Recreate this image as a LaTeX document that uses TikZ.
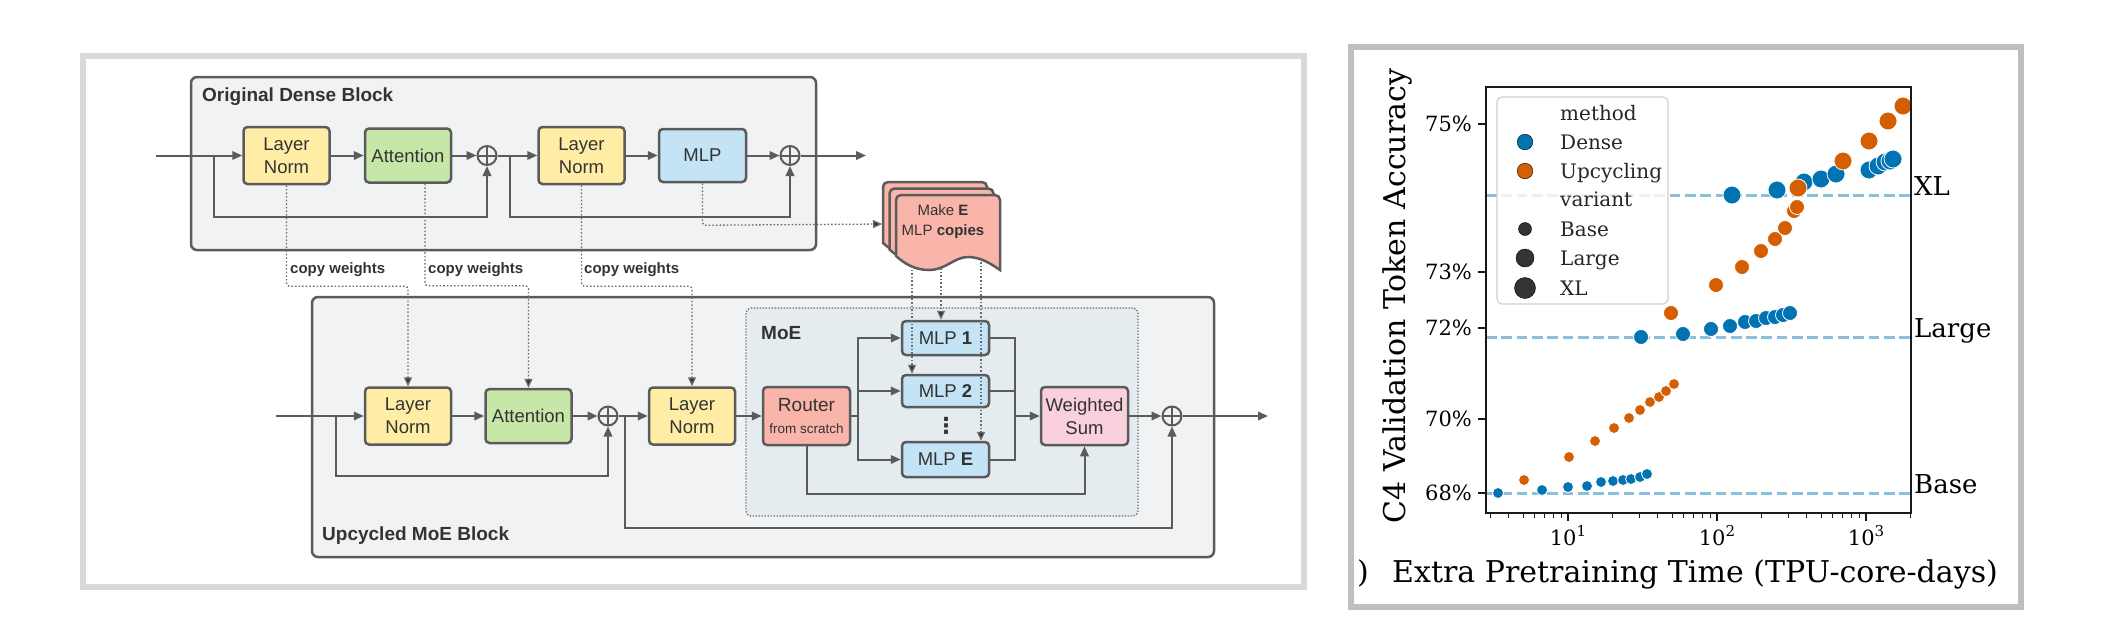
\documentclass[tikz,border=0pt]{standalone}
\usepackage{fontspec}
\setmainfont{Liberation Sans}
\newfontfamily\chartfont{DejaVu Serif}
\newfontfamily\symfont{DejaVu Sans}
\usetikzlibrary{arrows.meta}

\definecolor{edge}{HTML}{5B5B5B}
\definecolor{txt}{HTML}{333333}
\definecolor{dotc}{HTML}{6A6A6A}
\definecolor{lnfill}{HTML}{FFEDA6}
\definecolor{attfill}{HTML}{C7E7A9}
\definecolor{mlpfill}{HTML}{C4E4F6}
\definecolor{routfill}{HTML}{F9B5AA}
\definecolor{wsfill}{HTML}{F9D0DB}
\definecolor{blockfill}{HTML}{F1F2F4}
\definecolor{moefill}{HTML}{E4ECEF}
\definecolor{panelL}{HTML}{D9D9D9}
\definecolor{panelR}{HTML}{BFBFBF}
\definecolor{cblue}{HTML}{0173B2}
\definecolor{corange}{HTML}{D55E00}
\definecolor{hlinec}{HTML}{8CBFDE}
\definecolor{legedge}{HTML}{D0D0D0}

\tikzset{
  box/.style={draw=edge, line width=2.5pt, rounded corners=4pt, inner sep=0pt,
    align=center, text=txt, font=\fontsize{18.5}{23}\selectfont},
  lnbox/.style={box, fill=lnfill, minimum width=86pt, minimum height=57pt},
  attbox/.style={box, fill=attfill, minimum width=86pt, minimum height=54pt},
  mlpbox/.style={box, fill=mlpfill, minimum width=87pt, minimum height=53pt},
  expbox/.style={box, fill=mlpfill, minimum width=87pt, minimum height=34pt},
  routbox/.style={box, fill=routfill, minimum width=87pt, minimum height=58pt},
  wsbox/.style={box, fill=wsfill, minimum width=87pt, minimum height=58pt},
  block/.style={draw=edge, line width=2.5pt, fill=blockfill, rounded corners=6pt, inner sep=0pt},
  moeregion/.style={draw=dotc, line width=1.3pt, dash pattern=on 1.3pt off 1.7pt, fill=moefill, rounded corners=5pt, inner sep=0pt},
  title/.style={font=\fontsize{19}{22}\selectfont\bfseries, text=txt, inner sep=0pt, anchor=west},
  cwlabel/.style={font=\fontsize{15}{18}\selectfont\bfseries, text=txt, inner sep=0pt, anchor=west},
  sumnode/.style={circle, draw=edge, line width=2pt, minimum size=19pt, inner sep=0pt,
    path picture={\draw[edge, line width=2pt] (path picture bounding box.north) -- (path picture bounding box.south)
      (path picture bounding box.west) -- (path picture bounding box.east);}},
  conn/.style={draw=edge, line width=2pt},
  arr/.style={conn, -{Triangle[length=10pt,width=8.5pt]}},
  dotline/.style={draw=dotc, line width=1.3pt, dash pattern=on 1.6pt off 2pt, rounded corners=3pt},
  darr/.style={dotline, -{Triangle[length=9pt,width=8pt,fill=txt]}},
  sheet/.style={draw=edge, line width=2.5pt, fill=routfill},
  chart/.style={font=\chartfont\fontsize{21}{24}\selectfont, inner sep=0pt},
  legtext/.style={font=\chartfont\fontsize{20}{24}\selectfont, inner sep=0pt, anchor=base west, text=black!85},
  hline/.style={draw=hlinec, line width=3pt, dash pattern=on 10.7pt off 4.6pt},
  densept/.style={fill=cblue, draw=white, line width=0.8pt},
  upcpt/.style={fill=corange, draw=white, line width=0.8pt},
}

\newcommand{\docsheet}[2]{%
  \begin{scope}[shift={(#1,#2)}]
    \path[sheet] (0,61) [rounded corners=5pt] -- (0,0) -- (104,0) [sharp corners] -- (104,75)
      .. controls (94,68) and (84,62) .. (72,62)
      .. controls (58,62) and (50,75) .. (33,75)
      .. controls (18,75) and (8,68) .. (0,61) -- cycle;
  \end{scope}}

\begin{document}
\begin{tikzpicture}[x=1pt,y=-1pt]
\useasboundingbox (0,0) rectangle (2108,638);
\fill[white] (0,0) rectangle (2108,638);

% panels
\draw[panelL, line width=6pt] (83,56) rectangle (1304,587);
\draw[panelR, line width=6pt] (1351,47) rectangle (2021,607);

% ---------------- Original dense block ----------------
\node[block, minimum width=625pt, minimum height=173pt] (dense) at (503.5,163.5) {};
\node[title] (densetitle) at (202,97) {Original Dense Block};

\node[lnbox] (ln1) at (286.5,155.5) {Layer\\Norm};
\node[attbox] (att1) at (408,155.5) {Attention};
\node[sumnode] (p1) at (487,155.5) {};
\node[lnbox] (ln2) at (581.5,155.5) {Layer\\Norm};
\node[mlpbox] (mlp) at (702.5,155.5) {MLP};
\node[sumnode] (p2) at (790,155.5) {};

\coordinate (din) at (156,155.5);
\coordinate (dout) at (866,155.5);
\coordinate (b1) at (214,155.5);
\coordinate (b2) at (510,155.5);

\draw[arr] (din) -- (ln1.west);
\draw[arr] (ln1.east) -- (att1.west);
\draw[arr] (att1.east) -- (p1.west);
\draw[arr] (p1.east) -- (ln2.west);
\draw[arr] (ln2.east) -- (mlp.west);
\draw[arr] (mlp.east) -- (p2.west);
\draw[arr] (p2.east) -- (dout);
\draw[arr] (b1) -- ++(0,61.5) -| (p1.south);
\draw[arr] (b2) -- ++(0,61.5) -| (p2.south);

% ---------------- Make E copies ----------------
\docsheet{883}{182}
\docsheet{889.5}{188.5}
\docsheet{896}{195}
\node[font=\fontsize{15}{20}\selectfont, text=txt, align=center, inner sep=0pt] (copytxt) at (943,222) {Make \textbf{E}\\MLP \textbf{copies}};
\coordinate (cpin) at (882,224);
\coordinate (cpa) at (912,266);
\coordinate (cpb) at (941,268);
\coordinate (cpc) at (981,262);

% ---------------- Upcycled MoE block ----------------
\node[block, minimum width=902pt, minimum height=260pt] (up) at (763,427) {};
\node[title] (uptitle) at (322,536) {Upcycled MoE Block};
\node[moeregion, minimum width=392pt, minimum height=208pt] (moe) at (942,412) {};
\node[title] (moetitle) at (761,333) {MoE};

\node[lnbox] (ln3) at (408,416) {Layer\\Norm};
\node[attbox] (att2) at (528.5,416) {Attention};
\node[sumnode] (p3) at (608,416) {};
\node[lnbox] (ln4) at (692,416) {Layer\\Norm};
\node[routbox] (router) at (806.5,416) {{\fontsize{19}{19}\selectfont Router}\\[-1pt]{\fontsize{13.5}{16}\selectfont from scratch}};
\node[expbox] (mlp1) at (945.5,338) {MLP \textbf{1}};
\node[expbox, minimum height=32pt] (mlp2) at (945.5,391) {MLP \textbf{2}};
\node[expbox, minimum height=35pt] (mlpE) at (945.5,459.5) {MLP \textbf{E}};
\node[font=\symfont\bfseries\fontsize{22}{22}\selectfont, text=txt, inner sep=0pt] (vdots) at (946,426) {⋮};
\node[wsbox] (ws) at (1084.5,416) {Weighted\\Sum};
\node[sumnode] (p4) at (1172,416) {};

\coordinate (uin) at (276,416);
\coordinate (uout) at (1268,416);
\coordinate (b3) at (336,416);
\coordinate (b4) at (625,416);
\coordinate (split) at (858,416);
\coordinate (coll) at (1015,416);

\draw[arr] (uin) -- (ln3.west);
\draw[arr] (ln3.east) -- (att2.west);
\draw[arr] (att2.east) -- (p3.west);
\draw[arr] (p3.east) -- (ln4.west);
\draw[arr] (ln4.east) -- (router.west);
\draw[conn] (router.east) -- (split);
\draw[arr] (split) |- (mlp1.west);
\draw[arr] (split) |- (mlp2.west);
\draw[arr] (split) |- (mlpE.west);
\draw[conn] (mlp1.east) -| (coll);
\draw[conn] (mlp2.east) -| (coll);
\draw[conn] (mlpE.east) -| (coll);
\draw[arr] (coll) -- (ws.west);
\draw[arr] (router.south) -- ++(0,48) -| (ws.south);
\draw[arr] (ws.east) -- (p4.west);
\draw[arr] (p4.east) -- (uout);
\draw[arr] (b3) -- ++(0,60) -| (p3.south);
\draw[arr] (b4) -- ++(0,112) -| (p4.south);

% ---------------- copy weights (dotted) ----------------
\draw[darr] (ln1.south) -- ++(0,101) -| (ln3.north);
\draw[darr] ([xshift=17pt]att1.south) -- ++(0,102) -| (att2.north);
\draw[darr] (ln2.south) -- ++(0,101) -| (ln4.north);
\node[cwlabel] (cw1) at (290,270) {copy weights};
\node[cwlabel] (cw2) at (428,270) {copy weights};
\node[cwlabel] (cw3) at (584,270) {copy weights};
\draw[darr] (mlp.south) -- ++(0,42) -- (cpin);
\draw[darr] (cpa) -- (cpa |- mlp2.north);
\draw[darr] (cpb) -- (cpb |- mlp1.north);
\draw[darr] (cpc) -- (cpc |- mlpE.north);

% ================= Chart =================
% reference lines
\draw[hline] (1486,195) -- (1911,195);
\draw[hline] (1486,337) -- (1911,337);
\draw[hline] (1486,493) -- (1911,493);

% dense points
\foreach \px/\py in {1498/493,1542/490,1568/487,1587/486,1601/482,1613/481,1623/480,1631/479,1640/477,1647/474}
  \filldraw[densept] (\px,\py) circle (5.5pt);
\foreach \px/\py in {1641/337,1683/334,1711/329,1730/326,1745/322,1756/321,1766/318,1775/317,1783/315,1790/313}
  \filldraw[densept] (\px,\py) circle (7.5pt);
\foreach \px/\py in {1732/195,1777/190,1804/182,1821/179,1836/174,1869/170,1878/166,1885/162,1890/161,1893/159}
  \filldraw[densept] (\px,\py) circle (9pt);
% upcycling points
\foreach \px/\py in {1524/480,1569/457,1595/441,1614/428,1629/418,1640/410,1650/402,1659/397,1666/391,1674/384}
  \filldraw[upcpt] (\px,\py) circle (5.5pt);
\foreach \px/\py in {1671/313,1716/285,1742/267,1761/251,1775/239,1785/228,1794/211,1797/207}
  \filldraw[upcpt] (\px,\py) circle (7.5pt);
\foreach \px/\py in {1798/188,1843/161,1869/141,1888/121,1903/106}
  \filldraw[upcpt] (\px,\py) circle (9pt);

% legend
\filldraw[fill=white, fill opacity=0.8, draw=legedge, line width=1.2pt, rounded corners=5pt] (1497,97) rectangle (1668,304);
\node[legtext] (lm) at (1560,120) {method};
\filldraw[fill=cblue] (1525,142) circle (7.8pt);
\node[legtext] (ld) at (1560,149) {Dense};
\filldraw[fill=corange] (1525,171) circle (7.8pt);
\node[legtext] (lu) at (1560,178) {Upcycling};
\node[legtext] (lv) at (1560,206) {variant};
\filldraw[fill=black!80] (1525,229) circle (6.5pt);
\node[legtext] (lb) at (1560,236) {Base};
\filldraw[fill=black!80] (1525,258) circle (9pt);
\node[legtext] (ll) at (1560,265) {Large};
\filldraw[fill=black!80] (1525,288) circle (10.5pt);
\node[legtext] (lx) at (1560,295) {XL};

% axes
\draw[black!90, line width=1.3pt] (1486,87) rectangle (1911,513);
\foreach \ty/\tl in {124/75\%,272/73\%,328/72\%,419/70\%,493/68\%} {
  \draw[black!90, line width=1.3pt] (1478,\ty) -- (1486,\ty);
  \node[chart, anchor=east] at (1472,\ty) {\tl};
}
\foreach \tx/\te in {1568/1,1717/2,1866/3} {
  \draw[black!90, line width=1.3pt] (\tx,513) -- (\tx,521);
  \node[chart, anchor=base] at (\tx,545) {10\raisebox{0.42em}{\fontsize{15}{15}\selectfont\te}};
}
\foreach \b in {1419,1568,1717,1866} {
  \foreach \m in {2,...,9} {
    \pgfmathsetmacro\xx{\b+149*log10(\m)}
    \ifdim\xx pt>1487pt \ifdim\xx pt<1912pt
      \draw[black!90, line width=1pt] (\xx,513) -- (\xx,517.5);
    \fi\fi
  }
}
\node[chart, anchor=base west, font=\chartfont\fontsize{26}{30}\selectfont] (lxl) at (1914,195) {XL};
\node[chart, anchor=base west, font=\chartfont\fontsize{26}{30}\selectfont] (llg) at (1914,337) {Large};
\node[chart, anchor=base west, font=\chartfont\fontsize{26}{30}\selectfont] (lbs) at (1914,493) {Base};

\node[chart, rotate=90, font=\chartfont\fontsize{30}{34}\selectfont] (ylab) at (1397,296) {C4 Validation Token Accuracy};
\node[chart, anchor=base west, font=\chartfont\fontsize{30}{34}\selectfont] (xparen) at (1357,582) {)};
\node[chart, anchor=base west, font=\chartfont\fontsize{30}{34}\selectfont] (xlab) at (1392,582) {Extra Pretraining Time (TPU-core-days)};
\end{tikzpicture}
\end{document}
